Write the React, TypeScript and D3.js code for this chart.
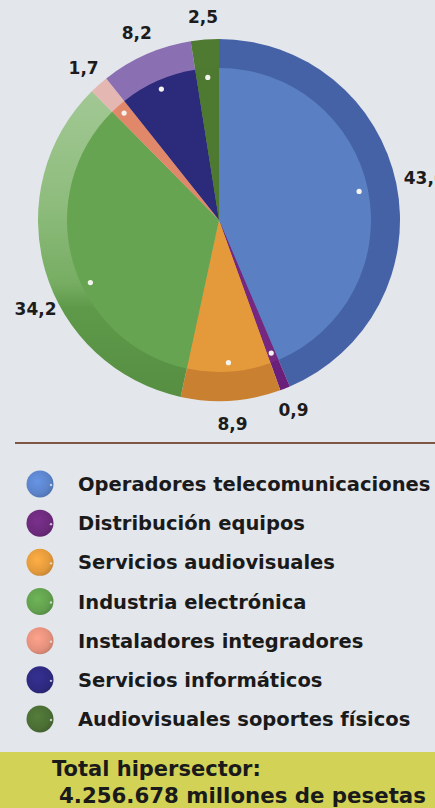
import React from "react";
import * as d3 from "d3";

const categories = [
  "Operadores telecomunicaciones",
  "Distribución equipos",
  "Servicios audiovisuales",
  "Industria electrónica",
  "Instaladores integradores",
  "Servicios informáticos",
  "Audiovisuales soportes físicos",
];
const values = [43.6, 0.9, 8.9, 34.2, 1.7, 8.2, 2.5];
const valueLabels = ["43,6", "0,9", "8,9", "34,2", "1,7", "8,2", "2,5"];
const innerColors = ["#5a80c3", "#76277f", "#e49a3b", "#66a451", "#e08869", "#2b2a7b", "#4d7a30"];
const ringColors = ["#4562a6", "#6a1f7a", "#c98030", "url(#greenRing)", "#e5b7b2", "#8a70b3", "#4e7b31"];
const legendColors = ["#5b83c9", "#6c2a7c", "#e39a3c", "#62a04e", "#e4907c", "#2e2a80", "#4b6e34"];
const totalTitle = "Total hipersector:";
const totalValue = "4.256.678 millones de pesetas";

const W = 435;
const H = 808;
const cx = 219;
const cy = 220;
const R = 181;
const rInner = 152;
const FONT = "'DejaVu Sans', sans-serif";

export default function App() {
  const pie = d3.pie<number>().sort(null).value((d) => d)(values);
  const outerArc = d3.arc<d3.PieArcDatum<number>>().innerRadius(0).outerRadius(R);
  const innerArc = d3.arc<d3.PieArcDatum<number>>().innerRadius(0).outerRadius(rInner);
  const nudge = (i: number) => (i === 3 ? -0.17 : 0);
  const labelR = (i: number) => (i === 0 ? 210 : 204);
  const polar = (a: number, r: number) => [cx + r * Math.sin(a), cy - r * Math.cos(a)];
  const legendY = d3.scalePoint<number>().domain(d3.range(categories.length)).range([484, 719]);

  return (
    <svg width={W} height={H} style={{ position: "absolute", left: 0, top: 0, background: "#e3e6eb" }}>
      <defs>
        <linearGradient id="greenRing" gradientUnits="userSpaceOnUse" x1={0} y1={-130} x2={0} y2={R}>
          <stop offset="0" stopColor="#a2c894" />
          <stop offset="0.35" stopColor="#8fbd7e" />
          <stop offset="0.62" stopColor="#77ad63" />
          <stop offset="0.7" stopColor="#5e9949" />
          <stop offset="1" stopColor="#568e42" />
        </linearGradient>
        {legendColors.map((c, i) => (
          <radialGradient key={i} id={`lg${i}`} cx="0.4" cy="0.4" r="0.65">
            <stop offset="0" stopColor={d3.color(c)!.brighter(0.35).toString()} />
            <stop offset="0.7" stopColor={c} />
            <stop offset="1" stopColor={d3.color(c)!.darker(0.4).toString()} />
          </radialGradient>
        ))}
      </defs>
      <rect x={0} y={0} width={W} height={H} fill="#e3e6eb" />
      <g transform={`translate(${cx},${cy})`}>
        {pie.map((p, i) => (
          <path key={`o${i}`} d={outerArc(p)!} fill={ringColors[i]} />
        ))}
        {pie.map((p, i) => (
          <path key={`i${i}`} d={innerArc(p)!} fill={innerColors[i]} />
        ))}
      </g>
      {pie.map((p, i) => {
        const a = (p.startAngle + p.endAngle) / 2 + nudge(i);
        const [dx, dy] = polar(a, 143);
        const [lx, ly] = polar(a, labelR(i));
        return (
          <g key={`l${i}`}>
            <circle cx={dx} cy={dy} r={2.6} fill="#f4f4ee" />
            <text x={lx} y={ly} dy="0.36em" textAnchor="middle" fontFamily={FONT} fontWeight="bold" fontSize={17} fill="#1c1c1c">
              {valueLabels[i]}
            </text>
          </g>
        );
      })}
      <line x1={15} x2={W} y1={443} y2={443} stroke="#7f5646" strokeWidth={2} />
      {categories.map((c, i) => {
        const y = legendY(i)!;
        return (
          <g key={`g${i}`}>
            <circle cx={40} cy={y} r={13.5} fill={`url(#lg${i})`} />
            <circle cx={51} cy={y + 1} r={1.2} fill="#e8e8e8" opacity={0.8} />
            <text x={78} y={y} dy="0.36em" fontFamily={FONT} fontWeight="bold" fontSize={19.5} fill="#1a1a1a">
              {c}
            </text>
          </g>
        );
      })}
      <rect x={0} y={752} width={W} height={H - 752} fill="#d2d257" />
      <text x={52} y={768} dy="0.36em" fontFamily={FONT} fontWeight="bold" fontSize={21} fill="#1a1a1a">
        {totalTitle}
      </text>
      <text x={59} y={795} dy="0.36em" fontFamily={FONT} fontWeight="bold" fontSize={21.3} fill="#1a1a1a">
        {totalValue}
      </text>
    </svg>
  );
}
